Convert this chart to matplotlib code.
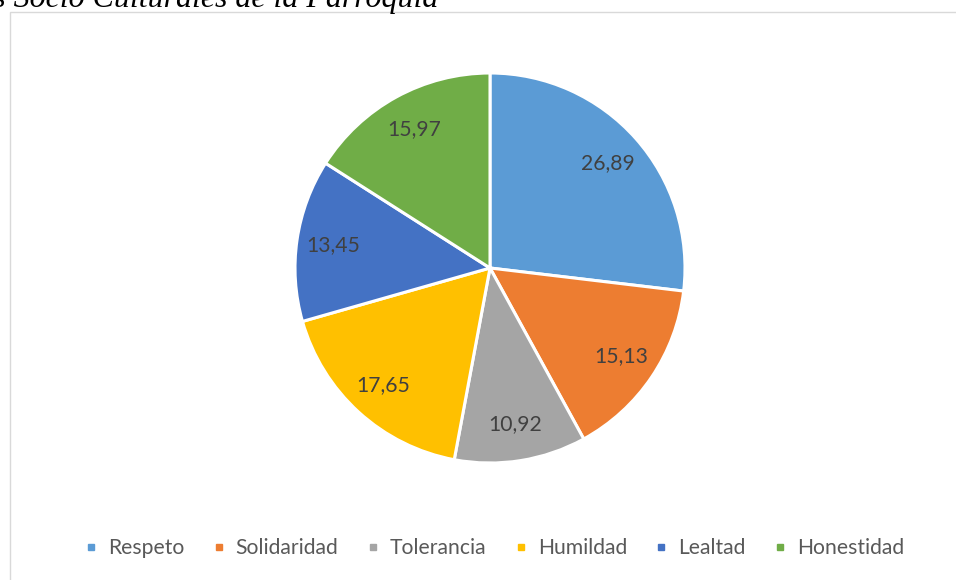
import matplotlib.pyplot as plt
from matplotlib.patches import Rectangle
from matplotlib.lines import Line2D
import numpy as np

# values
categories = ['Respeto', 'Solidaridad', 'Tolerancia', 'Humildad', 'Lealtad', 'Honestidad']
values = [26.89, 15.13, 10.92, 17.65, 13.45, 15.97]
colors = ['#5B9BD5', '#ED7D31', '#A5A5A5', '#FFC000', '#4472C4', '#70AD47']
title = 'Valores Socio Culturales de la Parroquia'

W, H = 956, 580
fig = plt.figure(figsize=(W / 100, H / 100), dpi=100)
fig.patch.set_facecolor('white')

# chart border (cropped on right / bottom)
fig.patches.append(Rectangle((10 / W, -0.01), 1.0, 1 - 12 / H + 0.01,
                             transform=fig.transFigure, fill=False,
                             edgecolor='#d9d9d9', linewidth=1.0))

# title, cut off at the top of the picture like in the source
# size it so "Socio ... Parroquia" spans about 424 px
renderer = fig.canvas.get_renderer()
probe = fig.text(0, 0, 'Socio Culturales de la Parroquia', family='Liberation Serif',
                 style='italic', fontsize=20)
tw = probe.get_window_extent(renderer).width
probe.remove()
fig.text(438 / W, 1 - 7 / H, title, ha='right', va='baseline',
         family='Liberation Serif', style='italic', fontsize=20 * 424 / tw, color='black')

# pie
cx, cy, r = 490, 268, 195
ax = fig.add_axes([(cx - r) / W, 1 - (cy + r) / H, 2 * r / W, 2 * r / H])
wedges, _ = ax.pie(values, colors=colors, startangle=90, counterclock=False,
                   radius=1.0, wedgeprops=dict(edgecolor='white', linewidth=2.2))
ax.set_xlim(-1, 1)
ax.set_ylim(-1, 1)
ax.set_aspect('equal')
ax.axis('off')

# data labels
for w, v in zip(wedges, values):
    ang = np.deg2rad((w.theta1 + w.theta2) / 2)
    ax.text(0.81 * np.cos(ang), 0.81 * np.sin(ang), f'{v:.2f}'.replace('.', ','),
            ha='center', va='center', fontsize=15.2, color='#404040', family='Lato')

# legend
handles = [Line2D([], [], marker='s', linestyle='none', markersize=5,
                  markerfacecolor=c, markeredgecolor=c) for c in colors]
fig.legend(handles, categories, loc='center', bbox_to_anchor=(495 / W, 1 - 548 / H),
           ncol=6, frameon=False, handletextpad=0.55, columnspacing=1.38,
           handlelength=0.5, prop={'family': 'Lato', 'size': 15.2}, labelcolor='#595959')

fig.savefig('out.png', dpi=100)
